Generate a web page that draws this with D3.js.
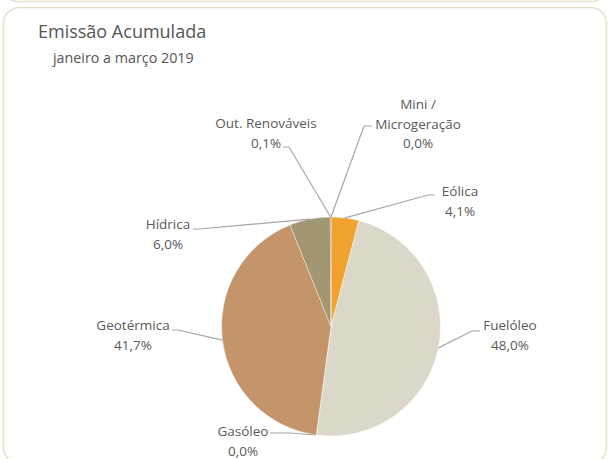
<!DOCTYPE html>
<html>
<head>
<meta charset="utf-8">
<style>
  body { margin: 0; background: #fff; }
  svg { display: block; font-family: "Open Sans", sans-serif; }
</style>
</head>
<body>
<svg width="610" height="459"></svg>
<script src="https://d3js.org/d3.v7.min.js"></script>
<script>

// data, clockwise from 12 o'clock
var categories = ["Mini / Microgeração", "Eólica", "Fuelóleo", "Gasóleo", "Geotérmica", "Hídrica", "Out. Renováveis"],
    values = [0.0, 4.1, 48.0, 0.0, 41.7, 6.0, 0.1],
    valueLabels = ["0,0%", "4,1%", "48,0%", "0,0%", "41,7%", "6,0%", "0,1%"],
    colors = ["#c9a25e", "#f0a22e", "#dbd8c9", "#8c8c8c", "#c4956a", "#a39673", "#7d6a45"];

// label text lines (split where the chart breaks them)
var labelLines = [["Mini /", "Microgeração", "0,0%"], ["Eólica", "4,1%"], ["Fuelóleo", "48,0%"],
                  ["Gasóleo", "0,0%"], ["Geotérmica", "41,7%"], ["Hídrica", "6,0%"], ["Out. Renováveis", "0,1%"]];

// label layout: text centre x, first baseline y, elbow point, line end point
var labelLayout = [
  {tx: 418, ty: 109, ex: 364, ey: 126, lx: 372},
  {tx: 460, ty: 196, ex: 428, ey: 195, lx: 435},
  {tx: 510, ty: 330, ex: 472, ey: 331, lx: 480},
  {tx: 243, ty: 436, ex: 290, ey: 433, lx: 270},
  {tx: 133, ty: 330, ex: 178, ey: 330, lx: 172},
  {tx: 168, ty: 229, ex: 199, ey: 229, lx: 193},
  {tx: 266, ty: 128, ex: 289, ey: 147, lx: 283}
];

var svg = d3.select("svg"),
    cx = 331,
    cy = 326.5,
    radius = 109.5;

// frame of the panel above and of this panel
svg.append("rect")
    .attr("x", 3).attr("y", -460).attr("width", 603).attr("height", 461.5)
    .attr("rx", 14)
    .attr("fill", "none").attr("stroke", "#e6e0cc").attr("stroke-width", 1.6);

svg.append("rect")
    .attr("x", 3.5).attr("y", 7.5).attr("width", 603).attr("height", 456)
    .attr("rx", 16)
    .attr("fill", "none").attr("stroke", "#e6e0cc").attr("stroke-width", 1.6);

svg.append("text")
    .attr("x", 38).attr("y", 38)
    .attr("font-size", 18)
    .attr("fill", "#555")
    .text("Emissão Acumulada");

svg.append("text")
    .attr("x", 53).attr("y", 63)
    .attr("font-size", 14.3)
    .attr("fill", "#555")
    .text("janeiro a março 2019");

var pie = d3.pie().sort(null).value(function(d) { return d; });
var arcs = pie(values);

var arc = d3.arc().innerRadius(0).outerRadius(radius);

var g = svg.append("g").attr("transform", "translate(" + cx + "," + cy + ")");

g.selectAll("path")
    .data(arcs)
  .enter().append("path")
    .attr("d", arc)
    .attr("fill", function(d, i) { return colors[i]; })
    .attr("stroke", "#fff")
    .attr("stroke-width", 0.4);

// leader lines
svg.append("g").selectAll("polyline")
    .data(arcs)
  .enter().append("polyline")
    .attr("fill", "none")
    .attr("stroke", "#a6a6a6")
    .attr("stroke-width", 1.2)
    .attr("points", function(d, i) {
      var a = (d.startAngle + d.endAngle) / 2,
          px = cx + radius * Math.sin(a),
          py = cy - radius * Math.cos(a),
          l = labelLayout[i];
      return [[px, py], [l.ex, l.ey], [l.lx, l.ey]].join(" ");
    });

// labels
var labels = svg.append("g").selectAll("text")
    .data(labelLines)
  .enter().append("text")
    .attr("text-anchor", "middle")
    .attr("font-size", 13.5)
    .attr("fill", "#595959");

labels.selectAll("tspan")
    .data(function(d, i) { return d.map(function(s) { return {s: s, i: i}; }); })
  .enter().append("tspan")
    .attr("x", function(d) { return labelLayout[d.i].tx; })
    .attr("y", function(d, j) { return labelLayout[d.i].ty + j * 19.5; })
    .text(function(d) { return d.s; });

</script>
</body>
</html>
